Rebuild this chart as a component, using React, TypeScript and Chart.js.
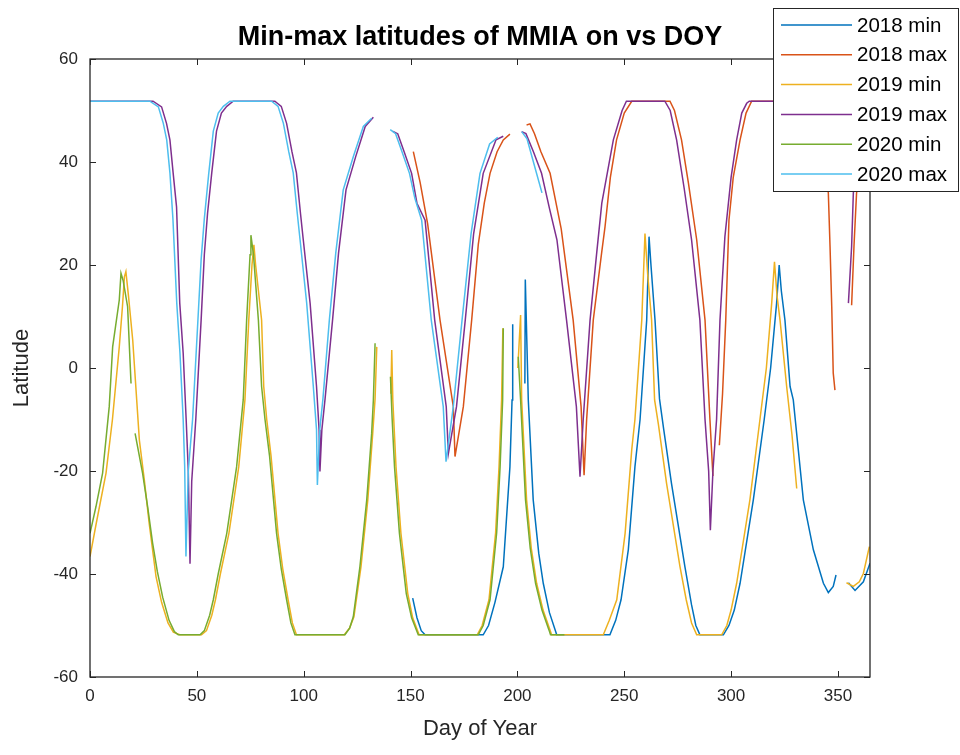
import { useEffect, useRef } from "react";
import { Chart, registerables } from "chart.js";

Chart.register(...registerables);

const TITLE = "Min-max latitudes of MMIA on vs DOY";
const X_LABEL = "Day of Year";
const Y_LABEL = "Latitude";
const X_TICKS = [0, 50, 100, 150, 200, 250, 300, 350];
const Y_TICKS = [-60, -40, -20, 0, 20, 40, 60];
const X_MIN = 0;
const X_MAX = 365;
const Y_MIN = -60;
const Y_MAX = 60;

const SERIES_LABELS = ["2018 min", "2018 max", "2019 min", "2019 max", "2020 min", "2020 max"];
const SERIES_COLORS = ["#0072BD", "#D95319", "#EDB120", "#7E2F8E", "#77AC30", "#4DBEEE"];

type P = [number, number | null];

const MIN_2018: P[] = [[151,-44.7],[153,-48.5],[155,-51],[156.8,-51.8],[184,-51.8],[186.5,-50],[189.5,-45.5],[193.4,-38.6],[196.5,-19.2],[197.5,-6.2],[197.8,8.5],[200,null],[203.5,-3],[203.7,17.2],[205.1,-6.2],[207.4,-25.6],[210,-36],[212.1,-41.8],[215,-47.5],[218.4,-51.8],[243.3,-51.8],[246,-49],[248.5,-45],[251.9,-35.3],[255,-19.2],[257.4,-10],[260.5,9.3],[261.6,25.5],[262.5,20],[264.4,9.3],[266.5,-6],[268.5,-12],[272.1,-22.4],[278.4,-38.6],[281.5,-46],[283.5,-50],[285.4,-51.8],[296.4,-51.8],[299,-50],[301.5,-47],[304.2,-41.8],[310.4,-25.6],[315.5,-10],[318.5,0],[321.3,12.6],[322.5,20],[323.5,15],[325.2,9.3],[327.6,-3.6],[329.1,-6.2],[333.8,-25.6],[338.5,-35.3],[343.2,-41.8],[345.5,-43.6],[347.8,-42.4],[349.1,-40.2],[352,null],[354.9,-41.7],[358,-43.2],[361.9,-41.5],[365,-37.9]];

const MAX_2018: P[] = [[151.3,42],[154.5,36],[158,28],[163.8,9.3],[170,-7.5],[170.8,-17.2],[174.7,-7.5],[178.6,9.3],[181.7,24],[184.5,32],[187.2,37.8],[190.5,42],[193.4,44.3],[196.5,45.4],[200,null],[204.3,47.2],[205.9,47.4],[208,45.5],[211,42],[215.3,37.8],[220.5,27],[226.1,9.3],[229.8,-7.5],[231.2,-20.8],[232.4,-10],[235.5,9.3],[239.4,22.3],[241,27.4],[243.5,37],[246.4,44.3],[250,49.5],[253.5,51.8],[271.4,51.8],[273.5,50],[276.8,44.3],[280,36],[283.9,24.9],[287.8,9.3],[290.1,-10],[291.5,-21],[293,null],[294.5,-15],[296,-5],[297.5,9.3],[299,28.7],[301,37],[304.2,44.3],[307,49.5],[309.6,51.8],[336,51.8],[339,49.5],[342,43],[345.5,34],[346.3,23.6],[347.1,11.9],[347.8,-1],[348.6,-4.3],[352,null],[356.4,12.2],[357.5,23.6],[358.7,33.9],[361,42],[363,48],[365,51.8]];

const MIN_2019: P[] = [[0,-36.6],[3,-30],[7.5,-20.4],[10.5,-10],[13.7,4.1],[15.2,12],[16.1,17.7],[16.8,18.7],[18,14],[20,5.4],[23.1,-14],[25.5,-22],[27.7,-30.2],[30.9,-40.5],[33.5,-45.5],[36.5,-49.5],[39,-51.3],[42,-51.8],[52.2,-51.8],[54.5,-51],[57,-48],[58.7,-45],[61,-40],[65,-32.1],[69.6,-19.2],[72.5,-6.2],[74.3,9.3],[75.8,20],[76.7,23.9],[77.5,20],[80.3,9.3],[81.3,-3.6],[82.7,-10],[84.7,-17],[88,-32.1],[90.2,-39],[92.7,-45],[94.7,-49.5],[96.6,-51.8],[119,-51.8],[121.5,-50.5],[123.5,-48.3],[126.8,-38.6],[130,-25.6],[132.3,-12.7],[133.4,-6],[134.2,4.1],[137,null],[140.8,-5],[141.2,3.5],[141.7,-6.2],[143.2,-19.2],[145.5,-32.1],[148.7,-43.8],[151,-48.5],[154,-51.8],[181.2,-51.8],[183.5,-50],[186.7,-45],[189.8,-32],[191.4,-19.2],[192.6,-6.2],[193.2,7.7],[196,null],[200.2,0],[201.5,10.3],[202,-6.2],[204.3,-25.6],[206.5,-35],[209,-41.8],[212,-47],[215.3,-50.9],[216,-51.8],[240.2,-51.8],[243,-49],[246.5,-45],[250.4,-32.1],[253.5,-15.9],[255,-10],[258.2,9.3],[259.7,26.1],[261,18],[262.8,9.3],[264.2,-6.2],[266,-11],[269.8,-22.4],[276.1,-38.6],[279,-45],[281.5,-49.5],[283.9,-51.8],[295.6,-51.8],[298,-50],[300,-47],[302.6,-41.8],[308.8,-25.6],[313.5,-10],[316.5,0],[319,12.6],[320.3,20.6],[321.5,14],[322.9,9.3],[326,-3.6],[328.5,-13],[330.7,-23.4],[342,null],[354,-41.7],[357.2,-42.4],[360,-41.5],[361.9,-39.9],[364.7,-34.7]];

const MAX_2019: P[] = [[0,51.8],[29.5,51.8],[33.5,50.7],[35.8,47.5],[37.4,44.3],[38.9,37.9],[40.5,31.3],[42,12.6],[43.6,2.9],[45,-10],[46,-20],[46.8,-38],[47.6,-22],[49.5,-10],[52,9.3],[53.5,22],[55,30],[57,38],[59.2,46],[61.5,49.5],[64,50.8],[67,51.8],[86.5,51.8],[89.5,50.8],[92,47.5],[94.5,42],[96.6,37.9],[98.5,30],[99.8,24.9],[103,12.6],[106,-3.6],[107.2,-12],[107.6,-20.1],[108.5,-12],[110,-6],[113.5,9.3],[116.3,22.3],[119.8,34.6],[124.3,41],[128.8,46.9],[132.6,48.7],[137,null],[141.5,46],[144,45.5],[147,42],[150.5,37.8],[153,32],[156.8,28.7],[161.3,9.3],[166.7,-7.5],[167.7,-16.6],[171.5,-7.5],[175.6,9.3],[179.5,26],[184,37.8],[190,44.3],[193.4,45],[198,null],[202,45.9],[204,45.5],[207.5,42],[211.3,37.8],[215,31],[218.5,24.9],[223,9.3],[227.6,-7.5],[229.3,-21.1],[230.8,-10],[234,9.3],[237.1,22.3],[239.5,32],[244.9,44.3],[249,50],[251,51.8],[269,51.8],[271.5,50],[274.5,44.3],[278,35],[281.5,24.9],[285.4,9.3],[287.8,-10],[289.5,-20],[290.3,-31.5],[291.5,-20],[293.2,-10],[294.8,9.3],[297.1,25.5],[300,37],[302.6,44.3],[305,49.5],[307.3,51.4],[308.5,51.8],[336,51.8],[345,null],[354.9,12.6],[356.4,23.6],[357.2,33.9],[359,43],[361,48],[363.5,51],[365,51.8]];

const MIN_2020: P[] = [[0,-32.1],[2.8,-26.9],[5.9,-20.4],[9,-7.5],[10.6,4.1],[13.7,13.2],[14.5,18.4],[15.5,17],[17.6,11.9],[19.2,-3],[20,null],[21.1,-12.7],[24.6,-20.4],[27,-27],[29.3,-34],[31.5,-39.5],[34,-44.5],[37,-49],[39.5,-51.2],[41.3,-51.8],[51.5,-51.8],[53.5,-51],[56,-48],[57.7,-45],[60,-40],[64,-32.1],[68.6,-19.2],[71.7,-6.2],[73.3,9.3],[74.9,22],[75.3,25.8],[76.5,22],[78.8,9.3],[80.3,-3.6],[81.9,-10],[84,-17],[87.3,-32.1],[89.5,-39],[92,-45],[94,-49.5],[95.9,-51.8],[119.3,-51.8],[121.5,-50.5],[123.2,-48.3],[126.3,-38.6],[129.5,-25.6],[131.8,-12.7],[132.6,-6.2],[133.4,4.8],[137,null],[140.6,-1.7],[141.4,-10],[142.5,-19.2],[144.8,-32.1],[148,-43.8],[150.5,-48.5],[153.6,-51.8],[181.7,-51.8],[184,-50],[187.2,-45],[190.3,-32],[191.9,-19.2],[193.1,-6.2],[193.4,7.7],[196,null],[200.4,2.2],[201.5,-6.2],[203.8,-25.6],[206,-35],[208.5,-41.8],[211.5,-47],[214.8,-50.9],[215.5,-51.8],[222,-51.8]];

const MAX_2020: P[] = [[0,51.8],[28,51.8],[32,50.7],[34.3,47.5],[35.9,44.3],[37.4,37.9],[38.8,29],[40.6,12.6],[42.1,2.9],[43.6,-10],[44.3,-19],[44.9,-36.6],[46,-20],[48,-10],[50.5,9.3],[52,21],[53.5,29],[55.5,37.5],[57.7,46],[60,49.5],[62.4,50.8],[65.5,51.8],[85,51.8],[88,50.8],[90.5,47.5],[93,42],[95.1,37.9],[97,30],[98.3,24.9],[101.4,12.6],[104.5,-3.6],[106,-12],[106.4,-22.7],[107.5,-12],[109,-6],[112,9.3],[115,22.3],[118.5,34.6],[123.2,41],[127.9,46.9],[131.8,48.5],[136,null],[140.5,46.3],[143,45.5],[146,42],[149.5,37.8],[152,33],[155.2,28.7],[159.7,9.3],[165.3,-7.5],[166.6,-18.2],[170,-7.5],[174.1,9.3],[178.3,26],[182.5,37.8],[187,43.5],[190.8,44.8],[196,null],[202,45.9],[204.5,44.5],[208.5,38.5],[211.5,34]];

const SERIES_DATA: P[][] = [MIN_2018, MAX_2018, MIN_2019, MAX_2019, MIN_2020, MAX_2020];

const FONT = "'Liberation Sans', Arial, Helvetica, sans-serif";
const AXIS_COLOR = "#262626";

const framePlugin = {
  id: "matlabFrame",
  afterDatasetsDraw(chart: any) {
    const { ctx, chartArea } = chart;
    const { left, right, top, bottom } = chartArea;
    const xs = chart.scales.x;
    const ys = chart.scales.y;
    ctx.save();
    ctx.strokeStyle = AXIS_COLOR;
    ctx.lineWidth = 1.3;
    ctx.strokeRect(left, top, right - left, bottom - top);
    ctx.lineWidth = 1;
    const tl = 6;
    ctx.beginPath();
    X_TICKS.forEach((v) => {
      const px = Math.round(xs.getPixelForValue(v)) + 0.5;
      ctx.moveTo(px, bottom);
      ctx.lineTo(px, bottom - tl);
      ctx.moveTo(px, top);
      ctx.lineTo(px, top + tl);
    });
    Y_TICKS.forEach((v) => {
      const py = Math.round(ys.getPixelForValue(v)) + 0.5;
      ctx.moveTo(left, py);
      ctx.lineTo(left + tl, py);
      ctx.moveTo(right, py);
      ctx.lineTo(right - tl, py);
    });
    ctx.stroke();
    ctx.restore();
  },
};

const legendPlugin = {
  id: "matlabLegend",
  afterDraw(chart: any) {
    const { ctx } = chart;
    const bx = 773;
    const by = 8;
    const bw = 186;
    const bh = 184;
    ctx.save();
    ctx.fillStyle = "#ffffff";
    ctx.fillRect(bx, by, bw, bh);
    ctx.strokeStyle = AXIS_COLOR;
    ctx.lineWidth = 1;
    ctx.strokeRect(bx + 0.5, by + 0.5, bw - 1, bh - 1);
    const rowH = 29.8;
    const firstY = 25;
    chart.data.datasets.forEach((ds: any, i: number) => {
      const y = firstY + i * rowH;
      ctx.strokeStyle = ds.borderColor;
      ctx.lineWidth = 1.5;
      ctx.beginPath();
      ctx.moveTo(781, y);
      ctx.lineTo(852, y);
      ctx.stroke();
      ctx.fillStyle = "#000000";
      ctx.font = `20.5px ${FONT}`;
      ctx.textAlign = "left";
      ctx.textBaseline = "middle";
      ctx.fillText(ds.label, 857, y + 1);
    });
    ctx.restore();
  },
};

export default function App() {
  const canvasRef = useRef<HTMLCanvasElement | null>(null);

  useEffect(() => {
    if (!canvasRef.current) return;
    const datasets = SERIES_DATA.map((series, i) => ({
      label: SERIES_LABELS[i],
      data: series.map(([x, y]) => ({ x, y })),
      borderColor: SERIES_COLORS[i],
      backgroundColor: SERIES_COLORS[i],
      borderWidth: 1.5,
      pointRadius: 0,
      tension: 0,
      fill: false,
      spanGaps: false,
      order: SERIES_DATA.length - i,
    }));
    const chart = new Chart(canvasRef.current, {
      type: "line",
      data: { datasets },
      options: {
        animation: false,
        responsive: true,
        maintainAspectRatio: false,
        layout: { padding: 0 },
        plugins: {
          legend: { display: false },
          tooltip: { enabled: false },
          title: {
            display: true,
            text: TITLE,
            color: "#000000",
            font: { family: FONT, size: 27, weight: "bold", lineHeight: 1.2 },
            padding: { top: 21, bottom: 5.6 },
          },
        },
        scales: {
          x: {
            type: "linear",
            min: X_MIN,
            max: X_MAX,
            grid: { display: false },
            border: { display: false },
            afterBuildTicks: (s: any) => {
              s.ticks = X_TICKS.map((v) => ({ value: v }));
            },
            afterFit: (s: any) => {
              s.height = 78;
            },
            ticks: {
              color: AXIS_COLOR,
              font: { family: FONT, size: 17 },
              padding: 1,
              maxRotation: 0,
              autoSkip: false,
            },
            title: {
              display: true,
              text: X_LABEL,
              color: AXIS_COLOR,
              font: { family: FONT, size: 22, lineHeight: 1.2 },
              padding: { top: 0, bottom: 13 },
            },
          },
          y: {
            type: "linear",
            min: Y_MIN,
            max: Y_MAX,
            grid: { display: false },
            border: { display: false },
            afterBuildTicks: (s: any) => {
              s.ticks = Y_TICKS.map((v) => ({ value: v }));
            },
            afterFit: (s: any) => {
              s.width = 90;
            },
            ticks: {
              color: AXIS_COLOR,
              font: { family: FONT, size: 17 },
              padding: 4,
              autoSkip: false,
            },
            title: {
              display: true,
              text: Y_LABEL,
              color: AXIS_COLOR,
              font: { family: FONT, size: 22, lineHeight: 1.2 },
              padding: { top: 9, bottom: 0 },
            },
          },
          yRightSpace: {
            type: "linear",
            position: "right",
            min: Y_MIN,
            max: Y_MAX,
            grid: { display: false },
            border: { display: false },
            ticks: { display: false },
            afterFit: (s: any) => {
              s.width = 90;
            },
          },
        },
      } as any,
      plugins: [framePlugin, legendPlugin],
    });
    return () => chart.destroy();
  }, []);

  return (
    <div style={{ position: "absolute", left: 0, top: 0, width: 960, height: 755, background: "#ffffff" }}>
      <canvas ref={canvasRef} />
    </div>
  );
}
